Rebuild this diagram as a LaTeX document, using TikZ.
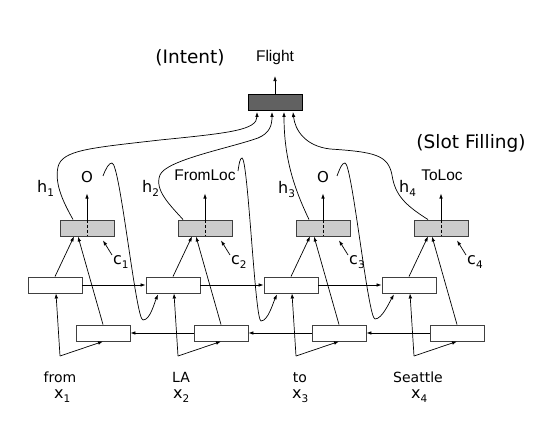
\documentclass[tikz,border=0pt]{standalone}
\usepackage{fontspec}
\setmainfont{DejaVu Sans}
\newfontfamily\arialf{Liberation Sans}
\usetikzlibrary{arrows.meta,calc}
\newcommand\subsc[1]{\raisebox{-4pt}{\fontsize{10.5}{10.5}\selectfont #1}}
\begin{document}
\begin{tikzpicture}[x=1pt,y=-1pt,
  box/.style={draw=black!75,line width=0.9pt,minimum width=54pt,minimum height=16pt,inner sep=0pt},
  outbox/.style={box,fill=black!20},
  topbox/.style={box,fill=black!62,draw=black},
  conn/.style={line width=0.7pt,-{Latex[length=5pt,width=3.6pt]}},
  plain/.style={line width=0.7pt},
  lab/.style={inner sep=0pt,anchor=base,font=\fontsize{14}{14}\selectfont},
  tag/.style={inner sep=0pt,anchor=base,font=\arialf\fontsize{15.5}{15.5}\selectfont},
  hl/.style={inner sep=0pt,anchor=base west,font=\fontsize{16}{16}\selectfont},
  big/.style={inner sep=0pt,font=\fontsize{18.5}{18.5}\selectfont}]
\useasboundingbox (0,0) rectangle (552,430);
% top
\node[topbox] (fl) at (275,102.5) {};
\node[tag] (flight) at (275,62) {Flight};
\draw[conn] (fl.north) -- ++(0,-18);
\node[big] (intent) at (190,58) {(Intent)};
\node[big] (slot) at (471,143) {(Slot Filling)};
% boxes
\foreach \i/\g/\f/\b in {1/87/55/103,2/205/173/221,3/323/291/339,4/441/409/457}{
  \node[outbox] (g\i) at (\g,228) {};
  \node[box] (f\i) at (\f,285) {};
  \node[box] (b\i) at (\b,333) {};
  \coordinate (v\i) at (\f+5,356);
  \draw[conn] (g\i.north) -- ++(0,-26);
  \draw[plain,dashed,dash pattern=on 3pt off 2pt] (g\i.north) -- (g\i.south);
  \draw[conn] (f\i.north) -- ($(g\i.south)+(-13,0)$);
  \draw[conn] (b\i.north) -- ($(g\i.south)+(-9,0)$);
  \draw[conn] (f\i.south) ++(1,0) coordinate (fs\i) (v\i) -- (fs\i);
  \draw[conn] (v\i) -- (b\i.south);
  \coordinate (cs\i) at (\g+25,255);
  \draw[conn] (cs\i) -- ($(g\i.south)+(16,4)$);
  \node[hl] (c\i) at (\g+26,265) {c\subsc{\i}};
}
\draw[conn] (f1.east) -- (f2.west);
\draw[conn] (f2.east) -- (f3.west);
\draw[conn] (f3.east) -- (f4.west);
\draw[conn] (b2.west) -- (b1.east);
\draw[conn] (b3.west) -- (b2.east);
\draw[conn] (b4.west) -- (b3.east);
% labels
\node[lab,font=\fontsize{15}{15}\selectfont] (o1) at (87,183) {O};
\node[tag] (o2) at (205,181) {FromLoc};
\node[lab,font=\fontsize{15}{15}\selectfont] (o3) at (323,183) {O};
\node[tag] (o4) at (442,181) {ToLoc};
\node[hl] (h1) at (37,193) {h\subsc{1}};
\node[hl] (h2) at (142,193) {h\subsc{2}};
\node[hl] (h3) at (278,194) {h\subsc{3}};
\node[hl] (h4) at (399,193) {h\subsc{4}};
\node[lab] (w1) at (60,383) {from};
\node[lab] (w2) at (181,383) {LA};
\node[lab] (w3) at (300,383) {to};
\node[lab] (w4) at (418,383) {Seattle};
\node[hl] (x1) at (54,399) {x\subsc{1}};
\node[hl] (x2) at (173,399) {x\subsc{2}};
\node[hl] (x3) at (292,399) {x\subsc{3}};
\node[hl] (x4) at (411,399) {x\subsc{4}};
% h curves to intent box
\draw[conn] ($(g1.north)+(-14,0)$) .. controls (65,205) and (54,185) .. (58,167) .. controls (62,150) and (90,148) .. (160,140) .. controls (230,133) and (257,130) .. ($(fl.south)+(-18,1)$);
\draw[conn] ($(g2.north)+(-22,0)$) .. controls (170,205) and (154,190) .. (160,175) .. controls (166,160) and (230,148) .. (258,138) .. controls (270,133) and (272,125) .. ($(fl.south)+(-3,1)$);
\draw[conn] ($(g3.north)+(-14,0)$) .. controls (295,190) and (284,160) .. ($(fl.south)+(9,1)$);
\draw[conn] ($(g4.north)+(-13,0)$) .. controls (405,205) and (395,195) .. (392,175) .. controls (388,155) and (375,152) .. (330,149) .. controls (305,146) and (295,130) .. ($(fl.south)+(18,1)$);
% feedback loops
\coordinate (s1) at (103,176);
\coordinate (s2) at (238,171);
\coordinate (s3) at (337,176);
\draw[conn] (s1) .. controls (106,168) and (109,163) .. (112,163) .. controls (120,163) and (136,321) .. (143,320) .. controls (150,320) and (154,304) .. ($(f2.south)+(-15,1)$);
\draw[conn] (s2) .. controls (239,164) and (240,158) .. (242,158) .. controls (248,158) and (255,321) .. (261,321) .. controls (268,321) and (273,303) .. ($(f3.south)+(-14,1)$);
\draw[conn] (s3) .. controls (340,168) and (342,163) .. (345,163) .. controls (352,163) and (368,319) .. (375,319) .. controls (382,319) and (389,303) .. ($(f4.south)+(-15,1)$);
\end{tikzpicture}
\end{document}
